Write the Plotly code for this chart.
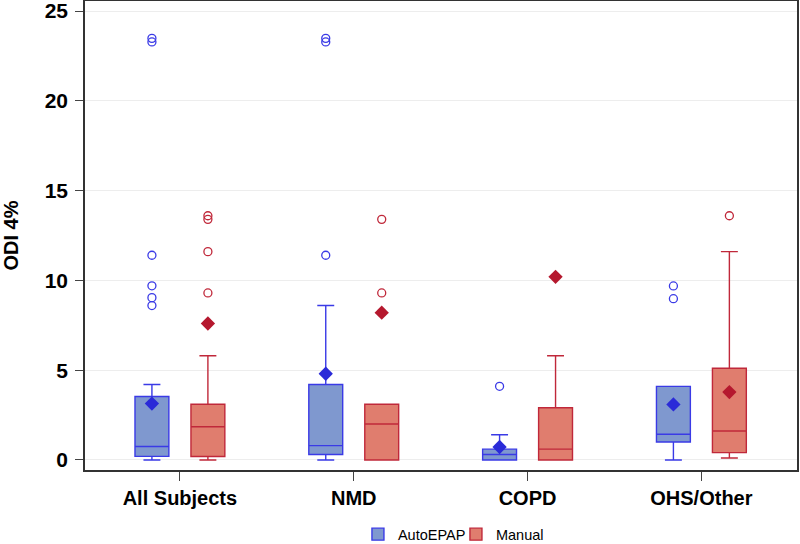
import plotly.graph_objects as go

categories = ["All Subjects", "NMD", "COPD", "OHS/Other"]

# AutoEPAP summary stats per category
auto_q1 = [0.2, 0.3, 0.0, 1.0]
auto_median = [0.75, 0.8, 0.3, 1.43]
auto_q3 = [3.53, 4.2, 0.6, 4.1]
auto_low = [0.0, 0.0, 0.0, 0.0]
auto_high = [4.2, 8.6, 1.4, 4.1]
auto_mean = [3.14, 4.8, 0.72, 3.09]
auto_outliers = [
    [8.6, 9.04, 9.7, 11.4, 23.28, 23.48],
    [11.4, 23.28, 23.48],
    [4.1],
    [8.98, 9.69],
]

# Manual summary stats per category
man_q1 = [0.19, 0.0, 0.0, 0.41]
man_median = [1.85, 2.0, 0.6, 1.61]
man_q3 = [3.1, 3.1, 2.91, 5.11]
man_low = [0.0, 0.0, 0.0, 0.11]
man_high = [5.8, 3.1, 5.8, 11.6]
man_mean = [7.6, 8.2, 10.2, 3.78]
man_outliers = [
    [9.3, 11.6, 13.4, 13.6],
    [9.3, 13.4],
    [],
    [13.6],
]

groups = [
    dict(name="AutoEPAP", q1=auto_q1, med=auto_median, q3=auto_q3, lo=auto_low,
         hi=auto_high, mean=auto_mean, out=auto_outliers, offset=-0.161,
         fill="#7F98CF", line="#3A3AE6", mcol="#2A2AD8"),
    dict(name="Manual", q1=man_q1, med=man_median, q3=man_q3, lo=man_low,
         hi=man_high, mean=man_mean, out=man_outliers, offset=0.161,
         fill="#E07D6E", line="#C0283A", mcol="#B5182E"),
]

fig = go.Figure()
for g in groups:
    xs = [i + g["offset"] for i in range(len(categories))]
    fig.add_trace(go.Box(
        x=xs, q1=g["q1"], median=g["med"], q3=g["q3"],
        lowerfence=g["lo"], upperfence=g["hi"],
        width=0.195, whiskerwidth=0.5, boxpoints=False,
        fillcolor=g["fill"], line=dict(color=g["line"], width=1.4),
        name=g["name"],
    ))
for g in groups:
    ox, oy = [], []
    for i, vals in enumerate(g["out"]):
        ox += [i + g["offset"]] * len(vals)
        oy += vals
    fig.add_trace(go.Scatter(
        x=ox, y=oy, mode="markers", showlegend=False,
        marker=dict(symbol="circle-open", size=8, color=g["line"],
                    line=dict(width=1.3)),
    ))
    fig.add_trace(go.Scatter(
        x=[i + g["offset"] for i in range(len(categories))], y=g["mean"],
        mode="markers", showlegend=False,
        marker=dict(symbol="diamond", size=11, color=g["mcol"]),
    ))

fig.update_layout(
    width=800, height=544,
    margin=dict(l=85, r=3, t=1, b=74),
    plot_bgcolor="white", paper_bgcolor="white",
    boxmode="overlay",
    font=dict(family="Liberation Sans, Arial, sans-serif", color="black"),
    showlegend=True,
    legend=dict(orientation="h", x=0.521, xanchor="center",
                yref="container", y=0.018, yanchor="middle",
                font=dict(size=14.5), entrywidth=53,
                entrywidthmode="pixels"),
)
fig.update_xaxes(
    range=[-0.546, 3.55], tickvals=list(range(len(categories))),
    ticktext=["<b>%s</b>" % c for c in categories],
    tickfont=dict(size=20), ticks="outside", ticklen=9, tickcolor="#444",
    showgrid=False, zeroline=False, showline=True, linecolor="#333",
    linewidth=1.5, mirror=True, automargin=False,
)
fig.update_yaxes(
    range=[-0.56, 25.56], tickvals=[0, 5, 10, 15, 20, 25],
    ticktext=["<b>%d</b>" % v for v in [0, 5, 10, 15, 20, 25]],
    tickfont=dict(size=21), ticks="outside", ticklen=8, tickcolor="#444",
    ticklabelstandoff=3, ticklabeloverflow="allow",
    showgrid=True, gridcolor="#EDEDED", gridwidth=1, zeroline=False,
    showline=True, linecolor="#333", linewidth=1.5, mirror=True,
    automargin=False,
    title=dict(text="<b>ODI 4%</b>", font=dict(size=20), standoff=49),
)

# the page body has a default 8px margin; drop it so the figure fills the window
fig.write_html("out.html", config={"displayModeBar": False},
               post_script="document.body.style.margin='0';")
